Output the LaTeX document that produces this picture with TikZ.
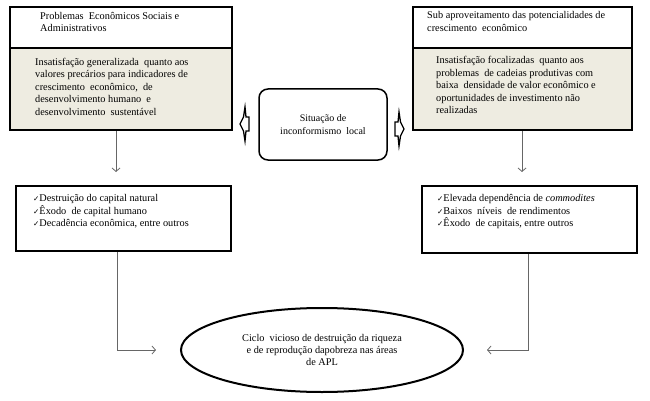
\documentclass[tikz,border=0pt]{standalone}
\usepackage{fontspec}
\setmainfont{Liberation Serif}
\newfontfamily\symfont{DejaVu Sans}
\usetikzlibrary{arrows.meta,shapes.geometric}
\newcommand{\ck}{{\symfont\fontsize{7.5}{8}\selectfont ✓}}
\begin{document}
\begin{tikzpicture}[x=1pt,y=-1pt,
  box/.style={draw=black, line width=2pt, inner sep=0pt, anchor=north west},
  graybox/.style={box, fill=graybg},
  txt/.style={anchor=north west, align=left, inner sep=0pt, font=\fontsize{10.3}{12.4}\selectfont},
  conn/.style={draw=black!60, line width=0.8pt, -{Straight Barb[length=3.5pt,width=8pt]}},
  bigarrow/.style={draw=black, line width=1.3pt, fill=white, line join=miter}
]
\definecolor{graybg}{HTML}{EEECE1}
\useasboundingbox (0,0) rectangle (650,401);

% top left
\node[box, minimum width=222pt, minimum height=41pt] (h1) at (9,6) {};
\node[graybox, minimum width=222pt, minimum height=82pt] (g1) at (9,47) {};
\node[txt] (th1) at (40,12) {Problemas\ \ Econômicos Sociais e\\Administrativos};
\node[txt] (tg1) at (35,58) {Insatisfação generalizada\ \ quanto aos\\valores precários para indicadores de\\crescimento\ \ econômico,\ \ de\\desenvolvimento humano\ \ e\\desenvolvimento\ \ sustentável};

% top right
\node[box, minimum width=219pt, minimum height=41pt] (h2) at (412,6) {};
\node[graybox, minimum width=219pt, minimum height=82pt] (g2) at (412,47) {};
\node[txt] (th2) at (427,11.5) {Sub aproveitamento das potencialidades de\\crescimento\ \ econômico};
\node[txt] (tg2) at (436,56.5) {Insatisfação focalizadas\ \ quanto aos\\problemas\ \ de cadeias produtivas com\\baixa\ \ densidade de valor econômico e\\oportunidades de investimento não\\realizadas};

% center
\node[draw=black, line width=1.5pt, rounded corners=9pt, minimum width=128pt, minimum height=71pt, align=center, inner sep=0pt, font=\fontsize{10}{13}\selectfont] (c) at (323,124.5) {Situação de\\inconformismo\ \ local};

% hollow side arrows
\draw[bigarrow] (245,107) -- (243.5,117) -- (240,124) -- (243.5,131) -- (245,141) -- (246,131) -- (249,131) -- (249,117) -- (246,117) -- cycle;
\draw[bigarrow] (399,112) -- (400.5,122) -- (404,129) -- (400.5,136) -- (399,146) -- (398,136) -- (395,136) -- (395,122) -- (398,122) -- cycle;

% middle boxes
\node[box, minimum width=215pt, minimum height=65pt] (m1) at (15,185) {};
\node[txt] (tm1) at (33,194.5) {\ck Destruição do capital natural\\\ck Êxodo\ \ de capital humano\\\ck Decadência econômica, entre outros};
\node[box, minimum width=215pt, minimum height=67pt] (m2) at (421,185) {};
\node[txt] (tm2) at (437,194.5) {\ck Elevada dependência de \textit{commodites}\\\ck Baixos\ \ níveis\ \ de rendimentos\\\ck Êxodo\ \ de capitais, entre outros};

% ellipse
\node[ellipse, draw=black, line width=2pt, minimum width=282pt, minimum height=84pt, inner sep=0pt, align=center, font=\fontsize{10.3}{12.3}\selectfont] (e) at (322,350) {Ciclo\ \ vicioso de destruição da riqueza\\e de reprodução dapobreza nas áreas\\de APL};

% connector coordinates
\coordinate (xa) at (116,0);
\coordinate (xb) at (522,0);
\coordinate (xc) at (117,0);
\coordinate (xd) at (528,0);

\draw[conn, shorten >=13pt] (g1.south -| xa) -- (m1.north -| xa);
\draw[conn, shorten >=13pt] (g2.south -| xb) -- (m2.north -| xb);
\draw[conn, shorten >=24pt] (m1.south -| xc) |- (e.west);
\draw[conn, shorten >=23pt] (m2.south -| xd) |- (e.east);
\end{tikzpicture}
\end{document}
